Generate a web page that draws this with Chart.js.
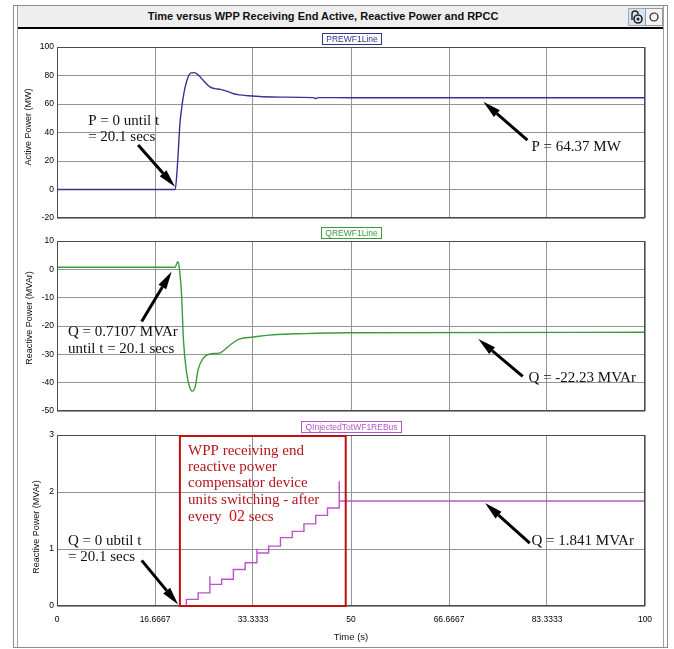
<!DOCTYPE html>
<html><head><meta charset="utf-8">
<script src="https://cdn.jsdelivr.net/npm/chart.js@4.4.1/dist/chart.umd.min.js"></script>
<style>
html,body{margin:0;padding:0;background:#fff;width:674px;height:649px;overflow:hidden}
#wrap{position:relative;width:674px;height:649px}
canvas{position:absolute;left:0;top:0}
.fr{position:absolute;box-sizing:border-box}
#title{position:absolute;left:18px;top:6px;width:610px;height:21px;font:bold 11px "Liberation Sans",Arial,sans-serif;text-align:center;line-height:21px;color:#111;white-space:nowrap}
</style></head>
<body><div id="wrap">
<div class="fr" style="left:13px;top:5px;width:655px;height:643px;border:1px solid #8c8c8c"></div>
<div class="fr" style="left:17px;top:6px;width:647px;height:641px;border-left:1px solid #a0a0a0;border-right:1px solid #a0a0a0"></div>
<div class="fr" style="left:18px;top:6px;width:645px;height:23px;background:#eeeeee;border-bottom:2px solid #000"></div>
<div id="title">Time versus WPP Receiving End Active, Reactive Power and RPCC</div>
<svg style="position:absolute;left:627px;top:7px" width="37" height="20">
  <rect x="1.5" y="1.5" width="17" height="17" fill="#d8e4f2" stroke="#9aaabb"/>
  <circle cx="11" cy="12" r="4" fill="none" stroke="#222" stroke-width="1.6"/>
  <circle cx="11" cy="12" r="1.5" fill="#222"/>
  <path d="M5 13 V7 a3 3 0 0 1 6 0" fill="none" stroke="#222" stroke-width="1.4"/>
  <rect x="18.5" y="1.5" width="17" height="17" fill="#f4f4f4" stroke="#9a9a9a"/>
  <circle cx="27" cy="10" r="4" fill="none" stroke="#222" stroke-width="1.2"/>
</svg>
<canvas id="c1" width="674" height="649"></canvas>
<canvas id="c2" width="674" height="649"></canvas>
<canvas id="c3" width="674" height="649"></canvas>
</div>
<script>
// ---------------- data ----------------
const xTickValues = [0, 16.6667, 33.3333, 50, 66.6667, 83.3333, 100];
const xTickLabels = ['0', '16.6667', '33.3333', '50', '66.6667', '83.3333', '100'];

const yTicksP = [-20, 0, 20, 40, 60, 80, 100];
const yTicksQ = [-50, -40, -30, -20, -10, 0, 10];
const yTicksR = [0, 1, 2, 3];

// Active power PREWF1Line (MW)
const pTime   = [0, 20.1, 20.4, 20.7, 20.9, 21.2, 21.4, 21.8, 22.3, 22.8, 23.3, 24, 25, 26, 26.8, 27.8, 29, 30, 31, 32.5, 35, 38, 43.6, 44.0, 44.4, 50, 100];
const pValues = [0, 0, 12, 32, 46, 57, 63, 72, 79, 81.8, 82, 80.5, 76, 72, 70.8, 70.3, 68.8, 67.2, 66.4, 65.8, 65.1, 64.8, 64.5, 63.8, 64.5, 64.4, 64.37];

// Reactive power QREWF1Line (MVAr)
const qTime   = [0, 20.1, 20.3, 20.55, 20.8, 21.2, 21.5, 22.05, 22.5, 23.0, 23.5, 24.0, 24.9, 26.0, 27.7, 29.4, 30.8, 33.4, 36.8, 42, 50, 100];
const qValues = [0.7107, 0.7107, 1.6, 2.7, 0.5, -9.6, -24.8, -36.6, -41.2, -43, -41.5, -35.4, -31.3, -29.9, -29.5, -26.8, -24.8, -23.9, -23.1, -22.7, -22.4, -22.23];

// QInjectedTotWF1REBus (MVAr), step changes
const rTime   = [0, 22, 24, 26, 26, 28, 30, 32, 34, 34, 36, 38, 40, 42, 44, 46, 48, 48, 100];
const rValues = [0, 0.117, 0.23, 0.52, 0.38, 0.47, 0.64, 0.76, 1.0, 0.93, 1.05, 1.2, 1.31, 1.44, 1.59, 1.72, 2.19, 1.841, 1.841];

// annotations (data coordinates)
const notesP = {
  texts: [[5.3, 48.3, 'P = 0 until t'], [5.3, 37.1, '= 20.1 secs'], [80.7, 30.0, 'P = 64.37 MW']],
  arrows: [[13.8, 31.2, 20.07, 2.0], [80.0, 34.7, 72.5, 61.6]]
};
const notesQ = {
  texts: [[1.87, -22.1, 'Q = 0.7107 MVAr'], [1.87, -28.0, 'until t = 20.1 secs'], [80.2, -38.3, 'Q = -22.23 MVAr']],
  arrows: [[14.4, -18.4, 19.5, -0.8], [79.2, -37.75, 71.65, -24.6]]
};
const notesR = {
  texts: [[1.87, 1.133, 'Q = 0 ubtil t'], [1.87, 0.86, '= 20.1 secs'], [80.7, 1.133, 'Q = 1.841 MVAr']],
  arrows: [[14.4, 0.80, 20.6, 0.026], [80.4, 1.105, 72.8, 1.805]],
  box: [20.9, 49.1, 0, 3],
  red: [[22.3, 2.725, 'WPP receiving end'], [22.3, 2.445, 'reactive power'], [22.3, 2.155, 'compensator device'], [22.3, 1.863, 'units switching - after']],
  redLast: [22.3, 1.56, 'every  ', '02', ' secs']
};

// ---------------- drawing ----------------
Chart.defaults.font.family = '"Liberation Sans", Arial, sans-serif';
const SERIF = '"Liberation Serif", "Times New Roman", serif';

function drawArrow(ctx, x1, y1, x2, y2) {
  const ang = Math.atan2(y2 - y1, x2 - x1), L = 18, W = 4.5;
  const bx = x2 - L * Math.cos(ang), by = y2 - L * Math.sin(ang);
  ctx.beginPath(); ctx.moveTo(x1, y1); ctx.lineTo(bx, by);
  ctx.lineWidth = 3; ctx.strokeStyle = '#000'; ctx.lineCap = 'butt'; ctx.stroke();
  ctx.beginPath(); ctx.moveTo(x2, y2);
  ctx.lineTo(bx + W * Math.sin(ang), by - W * Math.cos(ang));
  ctx.lineTo(bx - W * Math.sin(ang), by + W * Math.cos(ang));
  ctx.closePath(); ctx.fillStyle = '#000'; ctx.fill();
}

const panelPlugin = {
  id: 'panelPlugin',
  afterDatasetsDraw(chart) {
    const {ctx, chartArea: a, scales: {x, y}} = chart;
    const o = chart.options.plugins.panel;
    ctx.save();
    ctx.strokeStyle = '#4a4a4a'; ctx.lineWidth = 1;
    ctx.strokeRect(Math.round(a.left) + 0.5, Math.round(a.top) + 0.5, Math.round(a.right - a.left) - 1, Math.round(a.bottom - a.top) - 1);
    const n = o.notes;
    if (n.box) {
      ctx.strokeStyle = '#c01010'; ctx.lineWidth = 2;
      const x1 = x.getPixelForValue(n.box[0]), x2 = x.getPixelForValue(n.box[1]);
      const y1 = y.getPixelForValue(n.box[3]), y2 = y.getPixelForValue(n.box[2]);
      ctx.strokeRect(x1, y1 + 1, x2 - x1, y2 - y1 - 1);
    }
    ctx.textBaseline = 'middle'; ctx.textAlign = 'left';
    ctx.font = '15px ' + SERIF; ctx.fillStyle = '#111';
    n.texts.forEach(t => ctx.fillText(t[2], x.getPixelForValue(t[0]), y.getPixelForValue(t[1])));
    n.arrows.forEach(r => drawArrow(ctx, x.getPixelForValue(r[0]), y.getPixelForValue(r[1]), x.getPixelForValue(r[2]), y.getPixelForValue(r[3])));
    if (n.red) {
      ctx.fillStyle = '#b5141c'; ctx.font = '15px ' + SERIF;
      n.red.forEach(t => ctx.fillText(t[2], x.getPixelForValue(t[0]), y.getPixelForValue(t[1])));
      const r = n.redLast; let px = x.getPixelForValue(r[0]); const py = y.getPixelForValue(r[1]);
      ctx.fillText(r[2], px, py); px += ctx.measureText(r[2]).width;
      ctx.font = '16px ' + SERIF; ctx.fillStyle = '#e01010';
      ctx.fillText(r[3], px, py); px += ctx.measureText(r[3]).width;
      ctx.font = '15px ' + SERIF; ctx.fillStyle = '#b5141c';
      ctx.fillText(r[4], px, py);
    }
    ctx.restore();
  },
  afterDraw(chart) {
    const {ctx, chartArea: a} = chart;
    const o = chart.options.plugins.panel;
    const ds = chart.data.datasets[0];
    ctx.save();
    ctx.font = '8.5px "Liberation Sans"';
    const w = Math.round(ctx.measureText(ds.label).width + 8), h = 11;
    const cx = (a.left + a.right) / 2;
    const bx = Math.round(cx - w / 2) + 0.5, by = Math.round(a.top - 3 - h) + 0.5;
    ctx.fillStyle = '#fff'; ctx.fillRect(bx, by, w, h);
    ctx.strokeStyle = ds.borderColor; ctx.lineWidth = 1; ctx.strokeRect(bx, by, w, h);
    ctx.fillStyle = ds.borderColor; ctx.textAlign = 'center'; ctx.textBaseline = 'middle';
    ctx.fillText(ds.label, bx + w / 2, by + h / 2 + 0.5);
    ctx.translate(o.titleX, o.titleY); ctx.rotate(-Math.PI / 2);
    ctx.font = '9px "Liberation Sans"'; ctx.fillStyle = '#111';
    ctx.fillText(o.title, 0, 0);
    ctx.restore();
  }
};

function makePanel(id, cfg) {
  const bottomAxis = !!cfg.bottomAxis;
  const ds = {
    label: cfg.label,
    data: cfg.t.map((t, i) => ({x: t, y: cfg.v[i]})),
    borderColor: cfg.color, borderWidth: 1.4, pointRadius: 0, fill: false
  };
  if (cfg.stepped) ds.stepped = true; else ds.cubicInterpolationMode = 'monotone';
  return new Chart(document.getElementById(id), {
    type: 'line',
    data: {datasets: [ds]},
    options: {
      responsive: false, animation: false, devicePixelRatio: 1,
      layout: {padding: {left: 0, right: 29, top: cfg.top, bottom: bottomAxis ? 2 : 649 - cfg.bottom}},
      plugins: {
        legend: {display: false}, tooltip: {enabled: false},
        panel: {notes: cfg.notes, title: cfg.title, titleX: cfg.titleX, titleY: cfg.titleY}
      },
      scales: {
        x: {
          type: 'linear', min: 0, max: 100,
          afterBuildTicks: s => { s.ticks = xTickValues.map(v => ({value: v})); },
          afterFit: s => { s.height = bottomAxis ? 649 - 2 - cfg.bottom : 0; },
          ticks: {display: bottomAxis, autoSkip: false, maxRotation: 0, padding: 9, color: '#000',
                  font: {size: 8.5}, callback: (v, i) => xTickLabels[i]},
          grid: {color: '#959595', lineWidth: 1, drawTicks: false},
          border: {display: false},
          title: {display: bottomAxis, text: 'Time (s)', color: '#111', font: {size: 9.5}, padding: {top: 0, bottom: 4}}
        },
        y: {
          min: cfg.yTicks[0], max: cfg.yTicks[cfg.yTicks.length - 1],
          afterBuildTicks: s => { s.ticks = cfg.yTicks.map(v => ({value: v})); },
          afterFit: s => { s.width = 57; },
          ticks: {padding: 3, color: '#000', font: {size: 8.5}, callback: (v, i) => String(cfg.yTicks[i])},
          grid: {color: '#959595', lineWidth: 1, drawTicks: false},
          border: {display: false}
        }
      }
    },
    plugins: [panelPlugin]
  });
}

makePanel('c1', {label: 'PREWF1Line', t: pTime, v: pValues, color: '#34348f', yTicks: yTicksP,
  top: 47, bottom: 218, notes: notesP, title: 'Active Power (MW)', titleX: 29, titleY: 127});
makePanel('c2', {label: 'QREWF1Line', t: qTime, v: qValues, color: '#3c9a3c', yTicks: yTicksQ,
  top: 241, bottom: 411, notes: notesQ, title: 'Reactive Power (MVAr)', titleX: 30, titleY: 318});
makePanel('c3', {label: 'QInjectedTotWF1REBus', t: rTime, v: rValues, color: '#b955c8', yTicks: yTicksR,
  top: 435, bottom: 606, notes: notesR, title: 'Reactive Power (MVAr)', titleX: 37, titleY: 527, stepped: true, bottomAxis: true});
</script>
</body></html>
